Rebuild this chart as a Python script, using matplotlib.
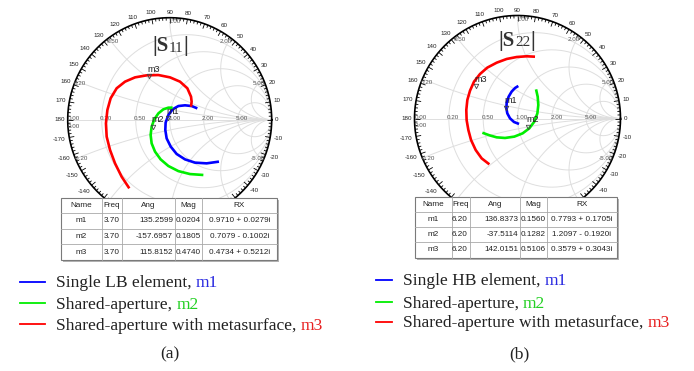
import numpy as np
import matplotlib.pyplot as plt
from matplotlib.collections import LineCollection

W, H = 694, 371
SANS = 'Liberation Sans'
SERIF = 'Liberation Serif'

# ---- traces (reflection coefficient, re / im) ----
# (a) S11
a_blue_re = [0.271, 0.215, 0.150, 0.085, 0.029, -0.013, -0.040, -0.043, -0.030, 0.010,
             0.068, 0.150, 0.248, 0.362, 0.483]
a_blue_im = [0.111, 0.134, 0.141, 0.134, 0.102, 0.046, -0.029, -0.101, -0.183, -0.264,
             -0.336, -0.389, -0.421, -0.428, -0.411]
a_green_re = [0.029, -0.013, -0.062, -0.111, -0.151, -0.177, -0.187, -0.177, -0.144, -0.089,
              -0.013, 0.085, 0.199, 0.330]
a_green_im = [0.118, 0.118, 0.102, 0.062, 0.004, -0.068, -0.150, -0.232, -0.313, -0.389,
              -0.454, -0.504, -0.533, -0.542]
a_red_re = [-0.396, -0.471, -0.536, -0.585, -0.618, -0.625, -0.611, -0.579, -0.520, -0.438,
            -0.340, -0.226, -0.111, 0.003, 0.101, 0.173, 0.209, 0.215, 0.209]
a_red_im = [-0.673, -0.559, -0.428, -0.297, -0.166, -0.036, 0.095, 0.210, 0.308, 0.373,
            0.415, 0.435, 0.438, 0.415, 0.373, 0.308, 0.226, 0.177, 0.128]

# (b) S22
b_blue_re = [0.008, -0.024, -0.057, -0.086, -0.105, -0.108, -0.099, -0.073, -0.034, 0.015]
b_blue_im = [0.316, 0.296, 0.261, 0.212, 0.154, 0.099, 0.050, 0.002, -0.034, -0.053]
b_green_re = [0.180, 0.196, 0.202, 0.193, 0.163, 0.115, 0.050, -0.031, -0.121, -0.202,
              -0.273, -0.341]
b_green_im = [0.283, 0.212, 0.131, 0.050, -0.031, -0.095, -0.144, -0.176, -0.189, -0.183,
              -0.163, -0.138]
b_red_re = [0.170, 0.089, -0.008, -0.105, -0.202, -0.293, -0.364, -0.422, -0.461, -0.487,
            -0.497, -0.494, -0.477, -0.451, -0.406, -0.348, -0.273]
b_red_im = [0.600, 0.604, 0.597, 0.578, 0.542, 0.494, 0.432, 0.358, 0.270, 0.180,
            0.083, -0.015, -0.112, -0.209, -0.306, -0.387, -0.445]

# marker tables
mk_names = ['m1', 'm2', 'm3']
a_freq = [3.70, 3.70, 3.70]
a_ang = [135.2599, -157.6957, 115.8152]
a_mag = [0.0204, 0.1805, 0.4740]
a_rx = ['0.9710 + 0.0279i', '0.7079 - 0.1002i', '0.4734 + 0.5212i']
b_freq = [6.20, 6.20, 6.20]
b_ang = [136.8373, -37.5114, 142.0151]
b_mag = [0.1560, 0.1282, 0.5106]
b_rx = ['0.7793 + 0.1705i', '1.2097 - 0.1920i', '0.3579 + 0.3043i']
tbl_head = ['Name', 'Freq', 'Ang', 'Mag', 'RX']

a_legend = ['Single LB element, ', 'Shared-aperture, ', 'Shared-aperture with metasurface, ']
b_legend = ['Single HB element, ', 'Shared-aperture, ', 'Shared-aperture with metasurface, ']

line_cols = ['#0000ff', '#00ee00', '#ff0000']
text_cols = ['#2a2ae0', '#22d022', '#e82020']

fig = plt.figure(figsize=(W / 100, H / 100), dpi=100)
over = fig.add_axes([0, 0, 1, 1])
over.set_xlim(0, W)
over.set_ylim(H, 0)
over.axis('off')
over.set_zorder(10)
over.patch.set_alpha(0)


def smith_axes(cx, cy, r, cut):
    x0, x1, y0, y1 = -1.25, 1.25, -1.25, 1.2
    left, right = cx + x0 * r, cx + x1 * r
    top, bottom = cy - y1 * r, cy - y0 * r
    ax = fig.add_axes([left / W, 1 - bottom / H, (right - left) / W, (bottom - top) / H])
    ax.set_xlim(x0, x1)
    ax.set_ylim(y0, y1)
    ax.axis('off')

    def label(x, y, s, **kw):
        # the bottom of the chart sits under the marker table
        if cy - y * r < cut:
            ax.text(x, y, s, family=SANS, fontsize=4.5, **kw)

    g = '#dedede'
    t = np.linspace(0, 2 * np.pi, 400)
    for rr in [0.2, 0.5, 1, 2, 5]:
        c, rad = rr / (1 + rr), 1 / (1 + rr)
        ax.plot(c + rad * np.cos(t), rad * np.sin(t), color=g, lw=0.7, zorder=1)
    res = np.concatenate([[0], np.logspace(-3, 4, 600)])
    for xx in [0.2, 0.5, 1, 2, 5]:
        for sg in (1, -1):
            z = res + 1j * sg * xx
            gm = (z - 1) / (z + 1)
            ax.plot(gm.real, gm.imag, color=g, lw=0.7, zorder=1)
    ax.plot([-1, 1], [0, 0], color=g, lw=0.7, zorder=1)

    # outer ring with ticks
    ax.plot(np.cos(t), np.sin(t), color='k', lw=1.2, zorder=3)
    segs = []
    for d in range(0, 360, 2):
        L = 0.05 if d % 10 == 0 else 0.028
        a = np.deg2rad(d)
        segs.append([(np.cos(a), np.sin(a)), ((1 - L) * np.cos(a), (1 - L) * np.sin(a))])
    ax.add_collection(LineCollection(segs, colors='k', lw=0.6, zorder=3))

    # angle labels
    for d in range(-170, 190, 10):
        s = str(d)
        a = np.deg2rad(d)
        off = (3 + 1.75 * len(s) * abs(np.cos(a)) + 2.5 * abs(np.sin(a))) / r
        label((1 + off) * np.cos(a), (1 + off) * np.sin(a), s, ha='center', va='center', color='#222')

    # resistance labels on the real axis
    for rr in [0.2, 0.5, 1, 2, 5]:
        gx = (rr - 1) / (rr + 1)
        label(gx + 4.5 / r, 1.5 / r, '%.2f' % rr, ha='center', va='center', color='#555')
    label(-1 + 0.5 / r, 1.5 / r, '0.00', ha='left', va='center', color='#555')
    label(-1 + 0.5 / r, -7 / r, '0.00', ha='left', va='center', color='#555')

    # reactance labels on the rim
    for xx in [0.2, 0.5, 1, 2, 5]:
        for sg in (1, -1):
            gm = (1j * sg * xx - 1) / (1j * sg * xx + 1)
            gx, gy = gm.real, gm.imag
            if gx < -0.2:
                ha, px = 'left', gx - 2 / r
            elif gx > 0.2:
                ha, px = 'right', gx + 1 / r
            else:
                ha, px = 'left', gx - 1 / r
            if sg > 0:
                va, py = 'top', gy - 1 / r
            else:
                va, py = 'center', gy
            label(px, py, '%.2f' % (sg * xx), ha=ha, va=va, color='#555')
    return ax


def put_pieces(x, y, pieces, center=False, **kw):
    # writes several text runs side by side on the overlay (pixel coords)
    rend = fig.canvas.get_renderer()
    objs = []
    cur = x
    for s, extra in pieces:
        opts = dict(kw)
        opts.update(extra)
        tx = over.text(cur, y, s, ha='left', va='baseline', **opts)
        cur += tx.get_window_extent(rend).width
        objs.append(tx)
    if center:
        shift = (cur - x) / 2
        for tx in objs:
            tx.set_x(tx.get_position()[0] - shift)


def draw_table(cols, rows, freq, ang, mag, rx):
    x0, x1 = cols[0], cols[-1]
    y0, y1 = rows[0], rows[-1]
    over.add_patch(plt.Rectangle((x0 + 2, y0 + 2), x1 - x0, y1 - y0, fc='#b4b4b4', ec='none', zorder=1))
    over.add_patch(plt.Rectangle((x0, y0), x1 - x0, y1 - y0, fc='white', ec='#7a7a7a', lw=0.8, zorder=2))
    for c in cols[1:-1]:
        over.plot([c, c], [y0, y1], color='#a8a8a8', lw=0.6, zorder=3)
    for rw in rows[1:-1]:
        over.plot([x0, x1], [rw, rw], color='#a8a8a8', lw=0.6, zorder=3)
    fs = dict(fontsize=5.9, family=SANS, color='#222', va='center', zorder=4)
    for j, h in enumerate(tbl_head):
        over.text((cols[j] + cols[j + 1]) / 2, (rows[0] + rows[1]) / 2, h, ha='center', **fs)
    for i in range(3):
        yc = (rows[i + 1] + rows[i + 2]) / 2
        over.text((cols[0] + cols[1]) / 2, yc, mk_names[i], ha='center', **fs)
        over.text(cols[2] - 2, yc, '%.2f' % freq[i], ha='right', **fs)
        over.text(cols[3] - 2, yc, '%.4f' % ang[i], ha='right', **fs)
        over.text((cols[3] + cols[4]) / 2, yc, '%.4f' % mag[i], ha='center', **fs)
        over.text((cols[4] + cols[5]) / 2, yc, rx[i], ha='center', **fs)


panels = [
    dict(c=(169.7, 119.7, 102), title='11', tx=170, ty=51.5,
         tr=[(a_blue_re, a_blue_im), (a_green_re, a_green_im), (a_red_re, a_red_im)],
         ang=a_ang, mag=a_mag, freq=a_freq, rx=a_rx,
         cols=[61, 101.7, 121.7, 175, 201.7, 276.7], rows=[197.7, 213.2, 228.7, 244.2, 260],
         leg=a_legend, lx=(20, 45), ltx=56, ly=[282.3, 303.3, 323.5], lb=[286.7, 309, 330],
         cap='(a)', cx=170),
    dict(c=(517.5, 118.5, 103), title='22', tx=517, ty=46,
         tr=[(b_blue_re, b_blue_im), (b_green_re, b_green_im), (b_red_re, b_red_im)],
         ang=b_ang, mag=b_mag, freq=b_freq, rx=b_rx,
         cols=[415, 451.7, 470, 520, 546.7, 616.7], rows=[196.5, 211.7, 226.9, 242.1, 257.5],
         leg=b_legend, lx=(376, 392), ltx=402.7, ly=[280, 302.3, 322.3], lb=[285, 307.7, 327.3],
         cap='(b)', cx=519),
]

for p in panels:
    ax = smith_axes(*p['c'], cut=p['rows'][0] - 1)
    for (re, im), col in zip(p['tr'], line_cols):
        ax.plot(re, im, color=col, lw=1.9, solid_capstyle='butt', zorder=5)
    # markers from the table values
    gm = np.array(p['mag']) * np.exp(1j * np.deg2rad(p['ang']))
    for k in range(3):
        ax.plot(gm[k].real, gm[k].imag, marker='v', ms=3.2, mfc='none', mec='#444', mew=0.6, zorder=6)
        ax.annotate(mk_names[k], (gm[k].real, gm[k].imag), xytext=(-1.0, 1.6), textcoords='offset points',
                    ha='left', va='bottom', fontsize=6.5, family=SANS, color='#222', zorder=7)

    # chart title |Sxx|
    put_pieces(p['tx'], p['ty'], [('|S', dict(fontsize=15, weight='bold')),
                                  (p['title'], dict(fontsize=11)),
                                  ('|', dict(fontsize=15, weight='bold'))],
               center=True, family=SERIF, color='#333')

    draw_table(p['cols'], p['rows'], p['freq'], p['ang'], p['mag'], p['rx'])

    # legend
    for k in range(3):
        over.plot(p['lx'], [p['ly'][k]] * 2, color=line_cols[k], lw=1.3)
        put_pieces(p['ltx'], p['lb'][k], [(p['leg'][k], dict(color='#222')),
                                          (mk_names[k], dict(color=text_cols[k]))],
                   fontsize=12.6, family=SERIF)
    over.text(p['cx'], 358.3, p['cap'], ha='center', va='baseline', fontsize=12.6, family=SERIF, color='#222')

fig.savefig('out.png', dpi=100)
